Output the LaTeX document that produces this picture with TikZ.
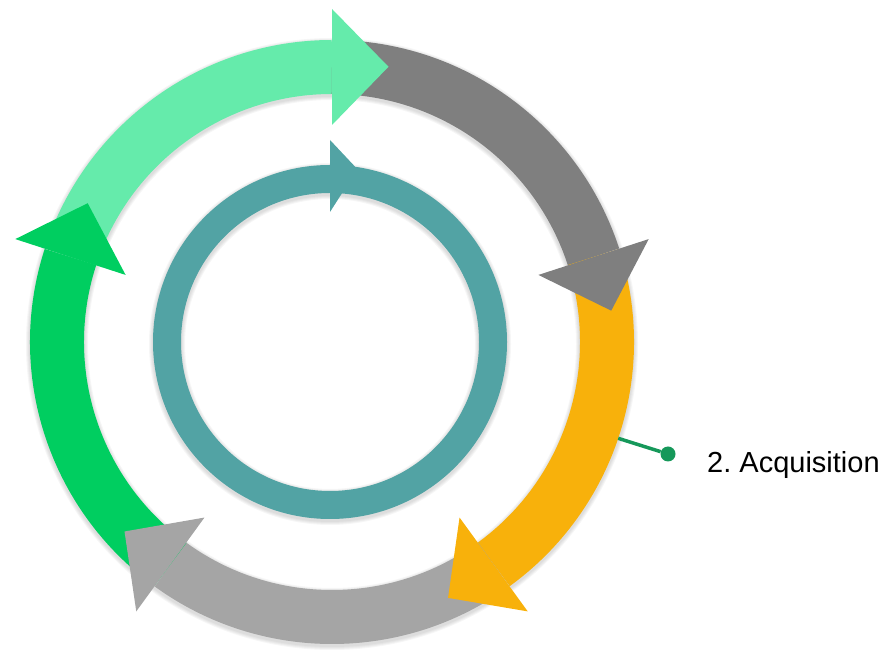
\documentclass[tikz,border=0pt]{standalone}
\usepackage{fontspec}
\setmainfont{Liberation Sans}
\usetikzlibrary{calc}
\definecolor{ringmint}{HTML}{65EBAB}
\definecolor{ringgreen}{HTML}{00CE60}
\definecolor{ringdark}{HTML}{7F7F7F}
\definecolor{ringorange}{HTML}{F8B10B}
\definecolor{ringgray}{HTML}{A5A5A5}
\definecolor{ringteal}{HTML}{52A3A4}
\definecolor{pinline}{HTML}{16985A}
\begin{document}
\begin{tikzpicture}[x=1pt,y=1pt,
  halo/.style={black,opacity=0.035}]
  \useasboundingbox (0,0) rectangle (891,650);
  \coordinate (c) at (332,308);
  \coordinate (t) at (330,308);
  % soft shadow under both rings
  \foreach \k in {1,...,4} {
    \draw[halo,line width=54+2*\k] ([yshift=-2]c) circle[radius=275];
    \draw[halo,line width=28+2*\k] ([yshift=-2]t) circle[radius=163];
  }
  % outer cycle: five bands first, heads on top of the next band
  \foreach \b/\col in {90/ringmint,18/ringdark,-54/ringorange,-126/ringgray,-198/ringgreen}
    \draw[\col,line width=54] (c) ++(\b+72:275) arc[start angle=\b+72,end angle=\b,radius=275];
  \foreach \b/\col in {90/ringmint,18/ringdark,-54/ringorange,-126/ringgray,-198/ringgreen}
    \fill[\col] ($(c)+(\b:217)$) -- ($(c)+(\b:333)$) -- ($(c)+(\b-11.6:281)$) -- cycle;
  % inner ring with its small head
  \draw[ringteal,line width=28] (t) circle[radius=163];
  \fill[ringteal] ($(t)+(90:130)$) -- ($(t)+(90:202)$) -- ($(t)+(81:175)$) -- cycle;
  % callout
  \coordinate (pin) at ($(c)+(-18.6:302)$);
  \node[circle,fill=pinline,inner sep=0,minimum size=15] (dot) at (668,196) {};
  \draw[pinline,line width=3.5] (pin) -- (dot);
  \node[anchor=base west,inner sep=0,font=\fontsize{29}{34}\selectfont] (lbl) at (707,177) {2.\ Acquisition};
\end{tikzpicture}
\end{document}
